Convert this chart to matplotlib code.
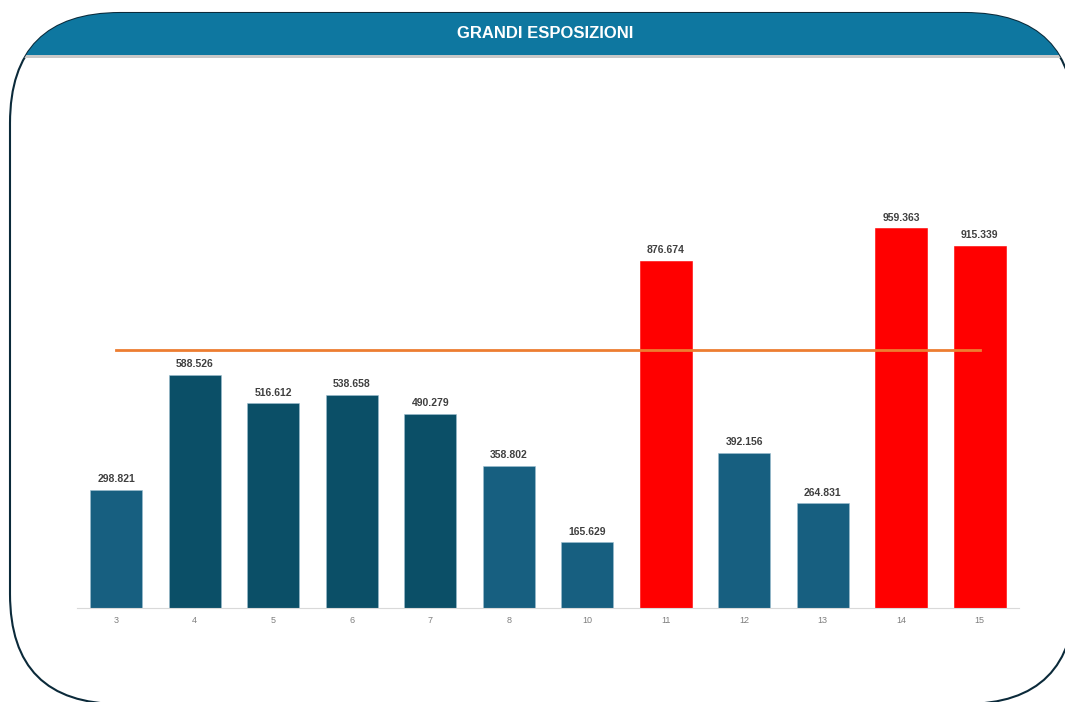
import matplotlib.pyplot as plt
from matplotlib.patches import FancyBboxPatch, Rectangle

# data
categorie = ['3', '4', '5', '6', '7', '8', '10', '11', '12', '13', '14', '15']
valori = [298.821, 588.526, 516.612, 538.658, 490.279, 358.802, 165.629,
          876.674, 392.156, 264.831, 959.363, 915.339]
soglia = [651.5] * len(categorie)
colori = ['#175F80', '#0B4F67', '#0B4F67', '#0B4F67', '#0B4F67', '#175F80', '#175F80',
          '#FF0000', '#175F80', '#175F80', '#FF0000', '#FF0000']

plt.rcParams['font.family'] = ['Liberation Sans', 'DejaVu Sans']

W, H = 1065, 702
fig = plt.figure(figsize=(W / 100, H / 100), dpi=100)

# background frame (pixel coordinates)
bg = fig.add_axes([0, 0, 1, 1])
bg.set_xlim(0, W)
bg.set_ylim(H, 0)
bg.axis('off')
frame = FancyBboxPatch((10, 13), 1065, 691, boxstyle='round,pad=0,rounding_size=110',
                       facecolor='white', edgecolor='#0B2A3A', linewidth=1.5)
bg.add_patch(frame)
header = Rectangle((0, 13), W, 42, facecolor='#0E77A0', edgecolor='none')
bg.add_patch(header)
header.set_clip_path(frame)
shadow = Rectangle((0, 55), W, 3, facecolor='#C8C8C8', edgecolor='none')
bg.add_patch(shadow)
shadow.set_clip_path(frame)
bg.text(545, 34, 'GRANDI ESPOSIZIONI', color='white', fontsize=12, fontweight='bold',
        ha='center', va='center')

# chart
ax = fig.add_axes([77 / W, 1 - 608 / H, (1019 - 77) / W, (608 - 100) / H])
ax.patch.set_alpha(0)
x = list(range(len(categorie)))
bars = ax.bar(x, valori, width=0.66, color=colori, edgecolor='#9DBFD0', linewidth=0.4)
for b, c in zip(bars, colori):
    if c == '#FF0000':
        b.set_edgecolor('#FF0000')
ax.plot(x, soglia, color='#ED7D31', linewidth=2)
for xi, v in zip(x, valori):
    ax.annotate(f'{v:.3f}', (xi, v), xytext=(0, 4), textcoords='offset points',
                ha='center', va='bottom', fontsize=7.5, fontweight='bold', color='#404040')
ax.set_xlim(-0.5, len(categorie) - 0.5)
ax.set_ylim(0, 1283)
ax.set_xticks(x)
ax.set_xticklabels(categorie, fontsize=6.5, color='#7F7F7F')
ax.tick_params(axis='x', length=0, pad=6)
ax.set_yticks([])
for s in ['top', 'right', 'left']:
    ax.spines[s].set_visible(False)
ax.spines['bottom'].set_color('#D9D9D9')

plt.savefig('out.png', dpi=100)
